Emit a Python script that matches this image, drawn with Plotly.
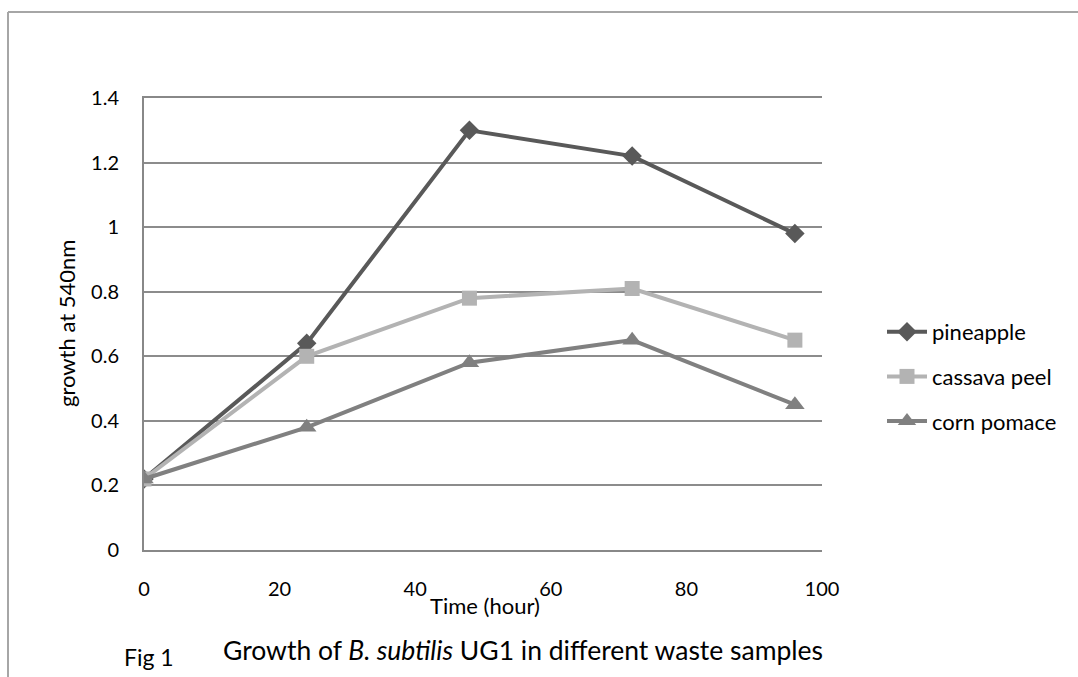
import plotly.graph_objects as go

time_h = [0, 24, 48, 72, 96]
pineapple = [0.22, 0.64, 1.30, 1.22, 0.98]
cassava_peel = [0.22, 0.60, 0.78, 0.81, 0.65]
corn_pomace = [0.22, 0.38, 0.58, 0.65, 0.45]
series_names = ["pineapple", "cassava peel", "corn pomace"]
x_ticks = [0, 20, 40, 60, 80, 100]
y_ticks = [0, 0.2, 0.4, 0.6, 0.8, 1.0, 1.2, 1.4]
y_tick_text = ["0", "0.2", "0.4", "0.6", "0.8", "1", "1.2", "1.4"]

FONT = "Lato, 'Open Sans', sans-serif"

fig = go.Figure()
styles = [
    dict(color="#595959", symbol="diamond", size=15),
    dict(color="#b3b3b3", symbol="square", size=15),
    dict(color="#808080", symbol="triangle-up", size=17),
]
for name, vals, st in zip(series_names, [pineapple, cassava_peel, corn_pomace], styles):
    fig.add_trace(go.Scatter(
        x=time_h, y=vals, name=name, mode="lines+markers",
        line=dict(color=st["color"], width=4),
        marker=dict(color=st["color"], symbol=st["symbol"], size=st["size"]),
        legendgroup=name,
    ))

L, R, T, B = 144, 256, 98, 127
W, H = 1078, 677
pw, ph = W - L - R, H - T - B

def px(xp):
    return (xp - L) / pw

def py(yp):
    return (H - B - yp) / ph

fig.update_layout(
    width=W, height=H,
    margin=dict(l=L, r=R, t=T, b=B),
    paper_bgcolor="white", plot_bgcolor="white",
    font=dict(family=FONT, size=20, color="#000000"),
    showlegend=True,
    legend=dict(x=px(882), y=py(311), xanchor="left", yanchor="top",
                font=dict(size=22, family=FONT), tracegroupgap=13,
                itemwidth=40, bgcolor="rgba(0,0,0,0)"),
    xaxis=dict(range=[0, 100], tickvals=x_ticks, ticktext=[str(v) for v in x_ticks],
               showgrid=False, zeroline=False, showline=True, linecolor="#888888",
               linewidth=2, mirror=True, ticks="", ticklabelstandoff=20, fixedrange=True),
    yaxis=dict(range=[0, 1.4], tickvals=y_ticks, ticktext=y_tick_text,
               showgrid=True, gridcolor="#8c8c8c", gridwidth=1.5, zeroline=False,
               showline=True, linecolor="#888888", linewidth=2, ticks="",
               ticklabelstandoff=19, fixedrange=True),
    shapes=[
        dict(type="line", xref="paper", yref="paper", x0=px(8), x1=px(1090),
             y0=py(12), y1=py(12), line=dict(color="#a6a6a6", width=2)),
        dict(type="line", xref="paper", yref="paper", x0=px(8), x1=px(8),
             y0=py(12), y1=py(690), line=dict(color="#a6a6a6", width=2)),
    ],
    annotations=[
        dict(text="growth at 540nm", xref="paper", yref="paper", x=px(66), y=py(324),
             textangle=-90, showarrow=False, font=dict(size=22, family=FONT),
             xanchor="center", yanchor="middle"),
        dict(text="Time (hour)", xref="paper", yref="paper", x=px(485), y=py(605),
             showarrow=False, font=dict(size=22, family=FONT),
             xanchor="center", yanchor="middle"),
        dict(text="Fig 1", xref="paper", yref="paper", x=px(122), y=py(657),
             showarrow=False, font=dict(size=23, family=FONT),
             xanchor="left", yanchor="middle"),
        dict(text="Growth of <i>B. subtilis</i> UG1 in different waste samples",
             xref="paper", yref="paper", x=px(221), y=py(650),
             showarrow=False, font=dict(size=26.5, family=FONT),
             xanchor="left", yanchor="middle"),
    ],
)

fig.write_html("out.html")
